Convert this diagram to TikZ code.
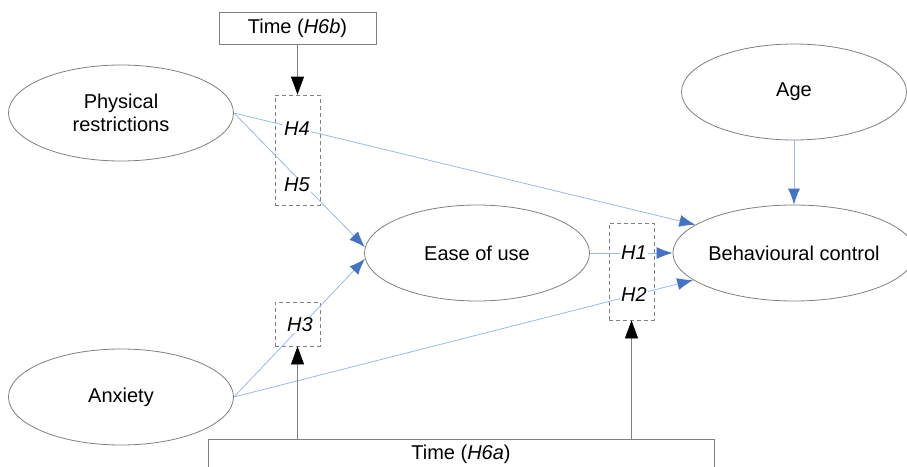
\documentclass[tikz,border=0pt]{standalone}
\usepackage{fontspec}
\setmainfont{Liberation Sans}
\usetikzlibrary{arrows.meta,shapes.geometric,calc}
\definecolor{linkblue}{RGB}{155,185,228}
\definecolor{tipblue}{RGB}{68,114,196}
\definecolor{rimgray}{RGB}{128,128,128}

\begin{document}
\begin{tikzpicture}[x=1pt,y=-1pt,
	every node/.style={font=\fontsize{20}{23}\selectfont},
	construct/.style={ellipse,draw=rimgray,line width=0.8pt,minimum width=225pt,minimum height=96pt,inner sep=0pt,align=center},
	timebox/.style={draw=rimgray,line width=0.8pt,inner sep=0pt},
	modbox/.style={draw=rimgray,dash pattern=on 4pt off 3pt,line width=0.8pt,minimum width=45pt,inner sep=0pt},
	hyp/.style={fill=white,inner sep=1pt,font=\fontsize{20}{23}\selectfont\itshape},
	bluelink/.style={linkblue,line width=0.8pt,-{Latex[color=tipblue,length=16pt,width=12pt]}},
	moderate/.style={rimgray,line width=0.8pt,-{Triangle[color=black,length=18pt,width=13pt]}}]
	\clip (0,0) rectangle (907,466);
	\node[construct] (phys) at (121,113) {Physical\\restrictions};
	\node[construct] (anx) at (121,397) {Anxiety};
	\node[construct] (ease) at (477,253) {Ease of use};
	\node[construct] (age) at (794,92) {Age};
	\node[construct] (bc) at (794,253) {Behavioural control};
	%%%%%
	\node[modbox,minimum height=110pt] (m45) at (297.5,150) {};
	\node[modbox,minimum height=44pt] (m3) at (297.5,324) {};
	\node[modbox,minimum height=97pt] (m12) at (631.5,271.5) {};
	\node[timebox,minimum width=157pt,minimum height=32pt] (t6b) at (297.5,28) {Time (\textit{H6b})};
	\node[timebox,minimum width=506pt,minimum height=30pt,anchor=north] (t6a) at (461,439) {Time (\textit{H6a})};
	%%%%%
	\draw[bluelink] (phys.east) -- (bc.164);
	\draw[bluelink] (phys.east) -- (ease.177);
	\draw[bluelink] (anx.east) -- (ease.183);
	\draw[bluelink] (anx.east) -- (bc.195);
	\draw[bluelink] (ease.east) -- (bc.west);
	\draw[bluelink] (age.south) -- (bc.north);
	\node[hyp] (h4) at (297,129) {H4};
	\node[hyp] (h5) at (297,185) {H5};
	\node[hyp] (h3) at (300,325) {H3};
	\node[hyp] (h1) at (634,253) {H1};
	\node[hyp] (h2) at (634,295) {H2};
	%%%%%
	\draw[moderate] (t6b) -- (m45);
	\draw[moderate] (m3.south |- t6a.north) -- (m3.south);
	\draw[moderate] (t6a.north -| m12.south) -- (m12.south);
\end{tikzpicture}
\end{document}
